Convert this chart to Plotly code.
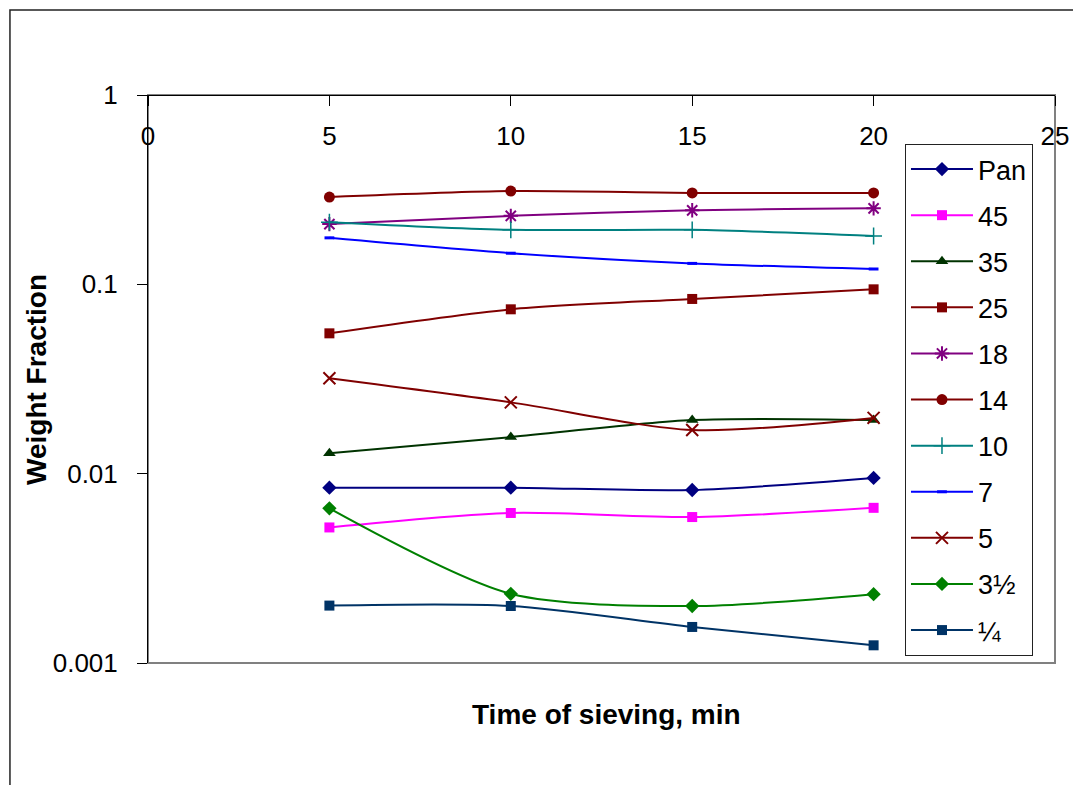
import plotly.graph_objects as go

times = [5, 10, 15, 20]
series_names = ["Pan", "45", "35", "25", "18", "14", "10", "7", "5", "3½", "¼"]
pan = [0.00843, 0.00843, 0.0082, 0.0095]
s45 = [0.0052, 0.0062, 0.0059, 0.0066]
s35 = [0.0128, 0.0156, 0.0192, 0.0192]
s25 = [0.0551, 0.0738, 0.0837, 0.0941]
s18 = [0.208, 0.230, 0.246, 0.252]
s14 = [0.289, 0.311, 0.304, 0.304]
s10 = [0.213, 0.194, 0.194, 0.180]
s7 = [0.176, 0.146, 0.129, 0.1205]
s5 = [0.0319, 0.0238, 0.0170, 0.0197]
s3half = [0.00656, 0.00232, 0.0020, 0.00231]
s_quarter = [0.00201, 0.00200, 0.00155, 0.00124]
y_tickvals = [0.001, 0.01, 0.1, 1]
y_ticktext = ["0.001", "0.01", "0.1", "1"]
x_tickvals = [0, 5, 10, 15, 20, 25]

values = [pan, s45, s35, s25, s18, s14, s10, s7, s5, s3half, s_quarter]
styles = [
    ("#000080", "diamond", 11, 0),
    ("#FF00FF", "square", 10, 0),
    ("#003300", "triangle-up", 11, 0),
    ("#800000", "square", 10, 0),
    ("#800080", "asterisk-open", 12, 2),
    ("#800000", "circle", 11, 0),
    ("#008080", "cross-thin-open", 12, 1.5),
    ("#0000FF", "line-ew-open", 7, 3),
    ("#800000", "x-thin-open", 12, 2),
    ("#008000", "diamond", 11, 0),
    ("#003366", "square", 10, 0),
]

FONT = "Liberation Sans, Arial, sans-serif"
fig = go.Figure()
for name, vals, (col, sym, sz, lw) in zip(series_names, values, styles):
    mk = dict(symbol=sym, size=sz, color=col)
    if lw:
        mk["line"] = dict(color=col, width=lw)
    fig.add_trace(go.Scatter(
        x=times, y=vals, name=name, mode="lines+markers",
        line=dict(color=col, width=2, shape="spline", smoothing=0.8),
        marker=mk, legendgroup=name,
    ))

fig.update_layout(
    width=1073, height=785,
    margin=dict(l=148, r=18, t=95, b=122, autoexpand=False),
    paper_bgcolor="white", plot_bgcolor="white",
    font=dict(family=FONT, size=26, color="black"),
    showlegend=True,
    legend=dict(
        x=0.8346, y=0.9137, xanchor="left", yanchor="top",
        bgcolor="white", bordercolor="#222222", borderwidth=1,
        font=dict(family=FONT, size=27, color="black"),
        tracegroupgap=8, itemwidth=62,
    ),
    xaxis=dict(
        range=[0, 25], tickvals=x_tickvals, ticks="outside", ticklen=10,
        tickcolor="black", showline=True, linecolor="black", linewidth=1,
        showgrid=False, zeroline=False, side="bottom", anchor="free",
        position=1, ticklabelstandoff=8, automargin=False,
        tickfont=dict(family=FONT, size=26),
    ),
    yaxis=dict(
        type="log", range=[-3, 0], tickvals=y_tickvals, ticktext=y_ticktext,
        ticks="outside", ticklen=10, tickcolor="black", showline=True,
        linecolor="black", linewidth=1, showgrid=False, zeroline=False,
        ticklabelstandoff=14, automargin=False,
        tickfont=dict(family=FONT, size=26),
    ),
    shapes=[
        dict(type="rect", xref="paper", yref="paper", x0=0, x1=1, y0=0, y1=1,
             line=dict(color="#808080", width=2), layer="below"),
        dict(type="rect", xref="paper", yref="paper", x0=-0.1522, x1=1.05,
             y0=-0.3, y1=1.1496, line=dict(color="#222222", width=1.5), layer="below"),
    ],
    annotations=[
        dict(text="<b>Time of sieving, min</b>", xref="paper", yref="paper",
             x=0.505, y=-0.0915, showarrow=False, xanchor="center", yanchor="middle",
             font=dict(family=FONT, size=28)),
        dict(text="<b>Weight Fraction</b>", xref="paper", yref="paper",
             x=-0.1235, y=0.5, showarrow=False, textangle=-90,
             xanchor="center", yanchor="middle", font=dict(family=FONT, size=28)),
    ],
)

fig.write_html("out.html")
